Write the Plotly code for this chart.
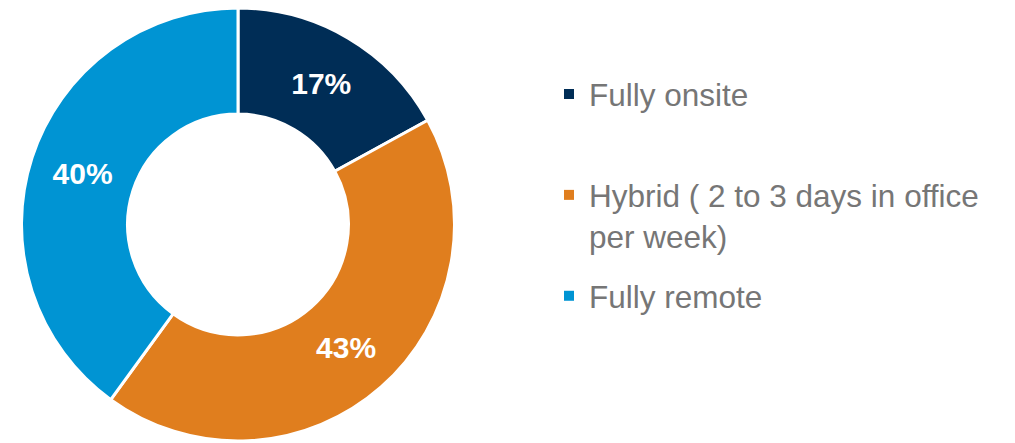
import plotly.graph_objects as go

categories = ["Fully onsite", "Hybrid ( 2 to 3 days in office per week)", "Fully remote"]
legend_labels = ["Fully onsite<br> ", "Hybrid ( 2 to 3 days in office<br>per week)", "Fully remote"]
values = [17, 43, 40]
colors = ["#002D56", "#E07E1E", "#0094D3"]

# page body has an 8px margin; figure placed at (8, 8) in the window
OFF = 8
W, H = 1015 - OFF, 443 - OFF
top_px, bot_px = 8, 441            # donut top / bottom in window pixels
r = (bot_px - top_px) / 2
cx = 238 - OFF                      # donut centre x in figure pixels
y_lo = (H - (bot_px - OFF)) / H
y_hi = (H - (top_px - OFF)) / H

fig = go.Figure()
fig.add_trace(go.Pie(
    labels=categories,
    values=values,
    hole=0.51,
    sort=False,
    direction="clockwise",
    rotation=0,
    showlegend=False,
    marker=dict(colors=colors, line=dict(color="white", width=3)),
    texttemplate="%{value}%",
    textposition="inside",
    insidetextorientation="horizontal",
    textfont=dict(family="Liberation Sans, Arial", size=30, color="white", weight="bold"),
    hoverinfo="label+percent",
    domain=dict(x=[(cx - r) / W, (cx + r) / W], y=[y_lo, y_hi]),
))

# legend entries (one per category), drawn by the library's legend
for i, (lab, col) in enumerate(zip(legend_labels, colors)):
    fig.add_trace(go.Scatter(
        x=[None], y=[None], mode="markers", name=lab,
        legendgroup=f"g{i}",
        marker=dict(symbol="square", size=10, color=col),
        hoverinfo="skip",
    ))

fig.update_layout(
    width=W, height=H,
    margin=dict(l=0, r=0, t=0, b=0),
    paper_bgcolor="white",
    plot_bgcolor="white",
    xaxis=dict(visible=False),
    yaxis=dict(visible=False),
    showlegend=True,
    legend=dict(
        x=(549 - OFF) / W, y=1 - (67 - OFF) / H, xanchor="left", yanchor="top",
        font=dict(family="Liberation Sans, Arial", size=31.5, color="#767676"),
        valign="top",
        itemwidth=30,
        tracegroupgap=16,
        bgcolor="rgba(0,0,0,0)",
    ),
)

fig.write_html("out.html")
